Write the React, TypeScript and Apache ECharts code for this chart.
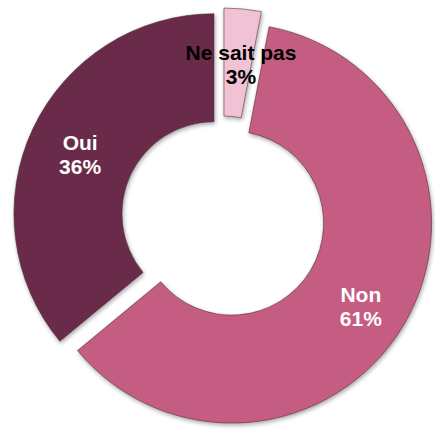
import React, { useEffect, useRef } from "react";
import * as echarts from "echarts";

const categories = ["Ne sait pas", "Non", "Oui"];
const values = [3, 61, 36];
const colors = ["#f1c1d4", "#c55b81", "#6b2b48"];
const labelColors = ["#000000", "#ffffff", "#ffffff"];
const labelShifts = [[3, 5], [1, 8], [1, 4]];

export default function App() {
  const ref = useRef<HTMLDivElement>(null);
  useEffect(() => {
    if (!ref.current) return;
    const chart = echarts.init(ref.current, undefined, { renderer: "svg" });
    const data = categories.map((name, i) => {
      const itemStyle = {
        color: colors[i],
        borderColor: "rgba(70,40,55,0.55)",
        borderWidth: 1,
        shadowBlur: 4,
        shadowOffsetX: 1,
        shadowOffsetY: 2,
        shadowColor: "rgba(0,0,0,0.35)",
      };
      const label = { color: labelColors[i], offset: labelShifts[i] };
      return {
        name,
        value: values[i],
        selected: true,
        itemStyle,
        label,
        select: { itemStyle, label },
      };
    });
    chart.setOption({
      animation: false,
      backgroundColor: "#ffffff",
      series: [
        {
          type: "pie",
          center: [223, 218],
          radius: [92, 200],
          startAngle: 90,
          clockwise: true,
          selectedMode: "multiple",
          selectedOffset: 10,
          avoidLabelOverlap: false,
          emphasis: { disabled: true, scale: false },
          label: {
            show: true,
            position: "inside",
            formatter: "{b}\n{c}%",
            fontFamily: "Liberation Sans, Arial, sans-serif",
            fontWeight: "bold",
            fontSize: 21,
            lineHeight: 24,
            align: "center",
          },
          labelLine: { show: false },
          data,
        },
      ],
    });
    return () => chart.dispose();
  }, []);
  return (
    <div
      ref={ref}
      style={{ position: "fixed", left: 0, top: 0, width: 435, height: 434 }}
    />
  );
}
